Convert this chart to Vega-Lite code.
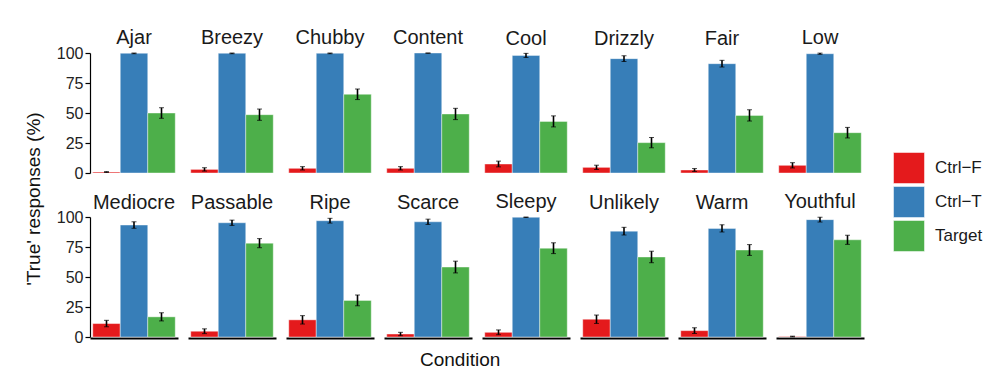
{
  "$schema": "https://vega.github.io/schema/vega-lite/v6.json",
  "padding": {"left": 25, "top": 28, "right": 5, "bottom": 5},
  "title": {"text": "'True' responses (%)", "orient": "left", "anchor": "middle", "fontSize": 19, "fontWeight": "normal", "color": "#111", "offset": 12},
  "data": {"values": [
    {"word": "Ajar", "group": "Ctrl−F", "value": 0.8, "lo": 0.4, "hi": 1.2},
    {"word": "Ajar", "group": "Ctrl−T", "value": 99.8, "lo": 99.4, "hi": 100},
    {"word": "Ajar", "group": "Target", "value": 50, "lo": 45.6, "hi": 54.4},
    {"word": "Breezy", "group": "Ctrl−F", "value": 3, "lo": 1.6, "hi": 4.4},
    {"word": "Breezy", "group": "Ctrl−T", "value": 99.8, "lo": 99.4, "hi": 100},
    {"word": "Breezy", "group": "Target", "value": 48.6, "lo": 43.9, "hi": 53.3},
    {"word": "Chubby", "group": "Ctrl−F", "value": 3.9, "lo": 2.5, "hi": 5.3},
    {"word": "Chubby", "group": "Ctrl−T", "value": 99.8, "lo": 99.4, "hi": 100},
    {"word": "Chubby", "group": "Target", "value": 65.6, "lo": 61.2, "hi": 70},
    {"word": "Content", "group": "Ctrl−F", "value": 3.9, "lo": 2.5, "hi": 5.3},
    {"word": "Content", "group": "Ctrl−T", "value": 100, "lo": 99.8, "hi": 100},
    {"word": "Content", "group": "Target", "value": 49.2, "lo": 44.5, "hi": 53.9},
    {"word": "Cool", "group": "Ctrl−F", "value": 7.5, "lo": 5.1, "hi": 9.9},
    {"word": "Cool", "group": "Ctrl−T", "value": 98, "lo": 96.3, "hi": 99.7},
    {"word": "Cool", "group": "Target", "value": 43, "lo": 38.4, "hi": 47.6},
    {"word": "Drizzly", "group": "Ctrl−F", "value": 4.7, "lo": 2.9, "hi": 6.5},
    {"word": "Drizzly", "group": "Ctrl−T", "value": 95.3, "lo": 92.9, "hi": 97.7},
    {"word": "Drizzly", "group": "Target", "value": 25.3, "lo": 21, "hi": 29.6},
    {"word": "Fair", "group": "Ctrl−F", "value": 2.5, "lo": 1.3, "hi": 3.7},
    {"word": "Fair", "group": "Ctrl−T", "value": 91.1, "lo": 88.3, "hi": 93.9},
    {"word": "Fair", "group": "Target", "value": 48, "lo": 43.3, "hi": 52.7},
    {"word": "Low", "group": "Ctrl−F", "value": 6.4, "lo": 4.2, "hi": 8.6},
    {"word": "Low", "group": "Ctrl−T", "value": 99.4, "lo": 98.9, "hi": 99.9},
    {"word": "Low", "group": "Target", "value": 33.6, "lo": 29.2, "hi": 38},
    {"word": "Mediocre", "group": "Ctrl−F", "value": 11.2, "lo": 8.5, "hi": 13.9},
    {"word": "Mediocre", "group": "Ctrl−T", "value": 93.3, "lo": 90.6, "hi": 96},
    {"word": "Mediocre", "group": "Target", "value": 16.8, "lo": 13.4, "hi": 20.2},
    {"word": "Passable", "group": "Ctrl−F", "value": 4.8, "lo": 2.8, "hi": 6.8},
    {"word": "Passable", "group": "Ctrl−T", "value": 95.2, "lo": 93, "hi": 97.4},
    {"word": "Passable", "group": "Target", "value": 78.2, "lo": 74.4, "hi": 82},
    {"word": "Ripe", "group": "Ctrl−F", "value": 14.3, "lo": 10.8, "hi": 17.8},
    {"word": "Ripe", "group": "Ctrl−T", "value": 96.9, "lo": 94.9, "hi": 98.9},
    {"word": "Ripe", "group": "Target", "value": 30.5, "lo": 26, "hi": 35},
    {"word": "Scarce", "group": "Ctrl−F", "value": 2.5, "lo": 1.1, "hi": 3.9},
    {"word": "Scarce", "group": "Ctrl−T", "value": 96, "lo": 93.8, "hi": 98.2},
    {"word": "Scarce", "group": "Target", "value": 58.3, "lo": 53.4, "hi": 63.2},
    {"word": "Sleepy", "group": "Ctrl−F", "value": 3.9, "lo": 1.9, "hi": 5.9},
    {"word": "Sleepy", "group": "Ctrl−T", "value": 99.8, "lo": 99.6, "hi": 100},
    {"word": "Sleepy", "group": "Target", "value": 74, "lo": 69.5, "hi": 78.5},
    {"word": "Unlikely", "group": "Ctrl−F", "value": 14.8, "lo": 11.3, "hi": 18.3},
    {"word": "Unlikely", "group": "Ctrl−T", "value": 88.2, "lo": 85, "hi": 91.4},
    {"word": "Unlikely", "group": "Target", "value": 66.7, "lo": 61.9, "hi": 71.5},
    {"word": "Warm", "group": "Ctrl−F", "value": 5.3, "lo": 2.9, "hi": 7.7},
    {"word": "Warm", "group": "Ctrl−T", "value": 90.5, "lo": 87.5, "hi": 93.5},
    {"word": "Warm", "group": "Target", "value": 72.5, "lo": 68, "hi": 77},
    {"word": "Youthful", "group": "Ctrl−F", "value": 0.4, "lo": 0.1, "hi": 0.7},
    {"word": "Youthful", "group": "Ctrl−T", "value": 97.8, "lo": 95.8, "hi": 99.8},
    {"word": "Youthful", "group": "Target", "value": 81, "lo": 77.2, "hi": 84.8}
  ]},
  "vconcat": [
    {
      "title": {"text": "Condition", "orient": "bottom", "anchor": "middle", "fontSize": 19, "fontWeight": "normal", "color": "#111", "offset": 6},
      "facet": {
        "field": "word", "type": "nominal",
        "header": {"title": null, "labelFontSize": 20, "labelFont": "Liberation Sans", "labelColor": "#1a1a1a", "labelPadding": 4}
      },
      "columns": 8,
      "spacing": {"column": 10, "row": 18},
      "spec": {
        "width": 88,
        "height": 120,
        "layer": [
          {
            "mark": {"type": "bar", "stroke": "white", "strokeWidth": 0.6, "strokeOpacity": 0.7},
            "encoding": {
              "x": {"field": "group", "type": "nominal", "scale": {"paddingInner": 0, "paddingOuter": 0.1},
                    "axis": {"title": null, "labels": false, "ticks": false, "domainColor": "black", "domainWidth": 2}},
              "y": {"field": "value", "type": "quantitative", "scale": {"domain": [0, 100], "nice": false},
                    "axis": {"title": null, "values": [0, 25, 50, 75, 100], "labelOverlap": false, "grid": false, "domainColor": "black", "domainWidth": 1.2, "tickColor": "black", "tickSize": 5, "tickWidth": 1.2, "labelFontSize": 16, "labelColor": "#222", "labelPadding": 2}},
              "color": {"field": "group", "type": "nominal",
                        "scale": {"domain": ["Ctrl−F", "Ctrl−T", "Target"], "range": ["#E41A1C", "#377EB8", "#4DAF4A"]},
                        "legend": {"title": null, "orient": "none", "legendX": 803, "legendY": 99, "symbolType": "square", "symbolSize": 961, "rowPadding": 0, "labelFontSize": 17, "labelColor": "#1a1a1a", "symbolStrokeColor": "white", "symbolStrokeWidth": 0.5, "symbolOpacity": 1, "labelOffset": 10}}
            }
          },
          {
            "mark": {"type": "errorbar", "color": "black", "ticks": {"size": 5, "color": "black", "strokeWidth": 1.6}, "rule": {"strokeWidth": 1.6}},
            "encoding": {
              "x": {"field": "group", "type": "nominal", "title": null},
              "y": {"field": "lo", "type": "quantitative",
                    "axis": {"title": null, "values": [0, 25, 50, 75, 100], "labelOverlap": false, "grid": false, "domainColor": "black", "domainWidth": 1.2, "tickColor": "black", "tickSize": 5, "tickWidth": 1.2, "labelFontSize": 16, "labelColor": "#222", "labelPadding": 2}},
              "y2": {"field": "hi"}
            }
          }
        ]
      }
    }
  ],
  "config": {"view": {"stroke": null}, "font": "Liberation Sans", "background": "white"}
}
